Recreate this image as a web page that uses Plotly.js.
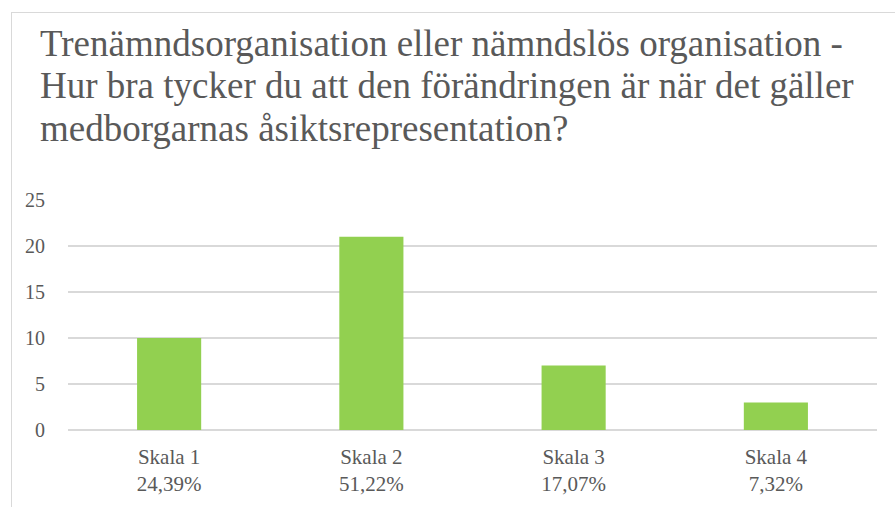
<!DOCTYPE html>
<html>
<head>
<meta charset="utf-8">
<script src="https://cdn.plot.ly/plotly-3.0.1.min.js"></script>
<style>
  html, body { margin: 0; padding: 0; background: #ffffff; }
  #wrap { position: relative; width: 895px; height: 507px; overflow: hidden; }
  #frame { position: absolute; left: 11px; top: 12px; width: 2000px; height: 2000px;
           border-left: 1px solid #d9d9d9; border-top: 1px solid #d9d9d9; pointer-events: none; z-index: 5; }
  #chart { position: absolute; left: 0; top: 0; width: 895px; height: 507px; }
</style>
</head>
<body>
<div id="wrap">
  <div id="chart"></div>
  <div id="frame"></div>
</div>
<script>
const categories = ["Skala 1", "Skala 2", "Skala 3", "Skala 4"];
const percentLabels = ["24,39%", "51,22%", "17,07%", "7,32%"];
const counts = [10, 21, 7, 3];
const yTicks = [0, 5, 10, 15, 20, 25];
const titleLines = [
  "Trenämndsorganisation eller nämndslös organisation -",
  "Hur bra tycker du att den förändringen är när det gäller",
  "medborgarnas åsiktsrepresentation?"
];

const tickText = categories.map((c, i) => c + "<br>" + percentLabels[i]);
const serif = "'Liberation Serif', 'DejaVu Serif', serif";
const titleText = titleLines.map(l => '<span style="font-size:37px">' + l + '</span>').join("<br>");

const data = [{
  type: "bar",
  x: categories,
  y: counts,
  marker: { color: "#92d050" },
  hoverinfo: "x+y"
}];

const layout = {
  width: 895,
  height: 507,
  margin: { l: 68, r: 18, t: 200, b: 77 },
  paper_bgcolor: "#ffffff",
  plot_bgcolor: "#ffffff",
  showlegend: false,
  bargap: 0.683,
  title: {
    text: titleText,
    font: { family: serif, size: 32.5, color: "#595959" },
    xref: "container", yref: "container",
    x: 40 / 895, xanchor: "left",
    y: 1 - 56 / 507, yanchor: "top"
  },
  xaxis: {
    type: "category",
    tickmode: "array",
    tickvals: categories,
    ticktext: tickText,
    tickfont: { family: serif, size: 21, color: "#595959" },
    showgrid: false,
    showline: false,
    zeroline: false,
    ticks: "",
    ticklabelstandoff: 12
  },
  yaxis: {
    range: [0, 25],
    tickmode: "array",
    tickvals: yTicks,
    tickfont: { family: serif, size: 20, color: "#595959" },
    gridcolor: "#d9d9d9",
    gridwidth: 1.3,
    zeroline: true,
    zerolinecolor: "#d9d9d9",
    zerolinewidth: 1.3,
    showline: false,
    ticks: "",
    ticklabelstandoff: 22
  }
};

Plotly.newPlot("chart", data, layout, { displayModeBar: false, staticPlot: true });
</script>
</body>
</html>
